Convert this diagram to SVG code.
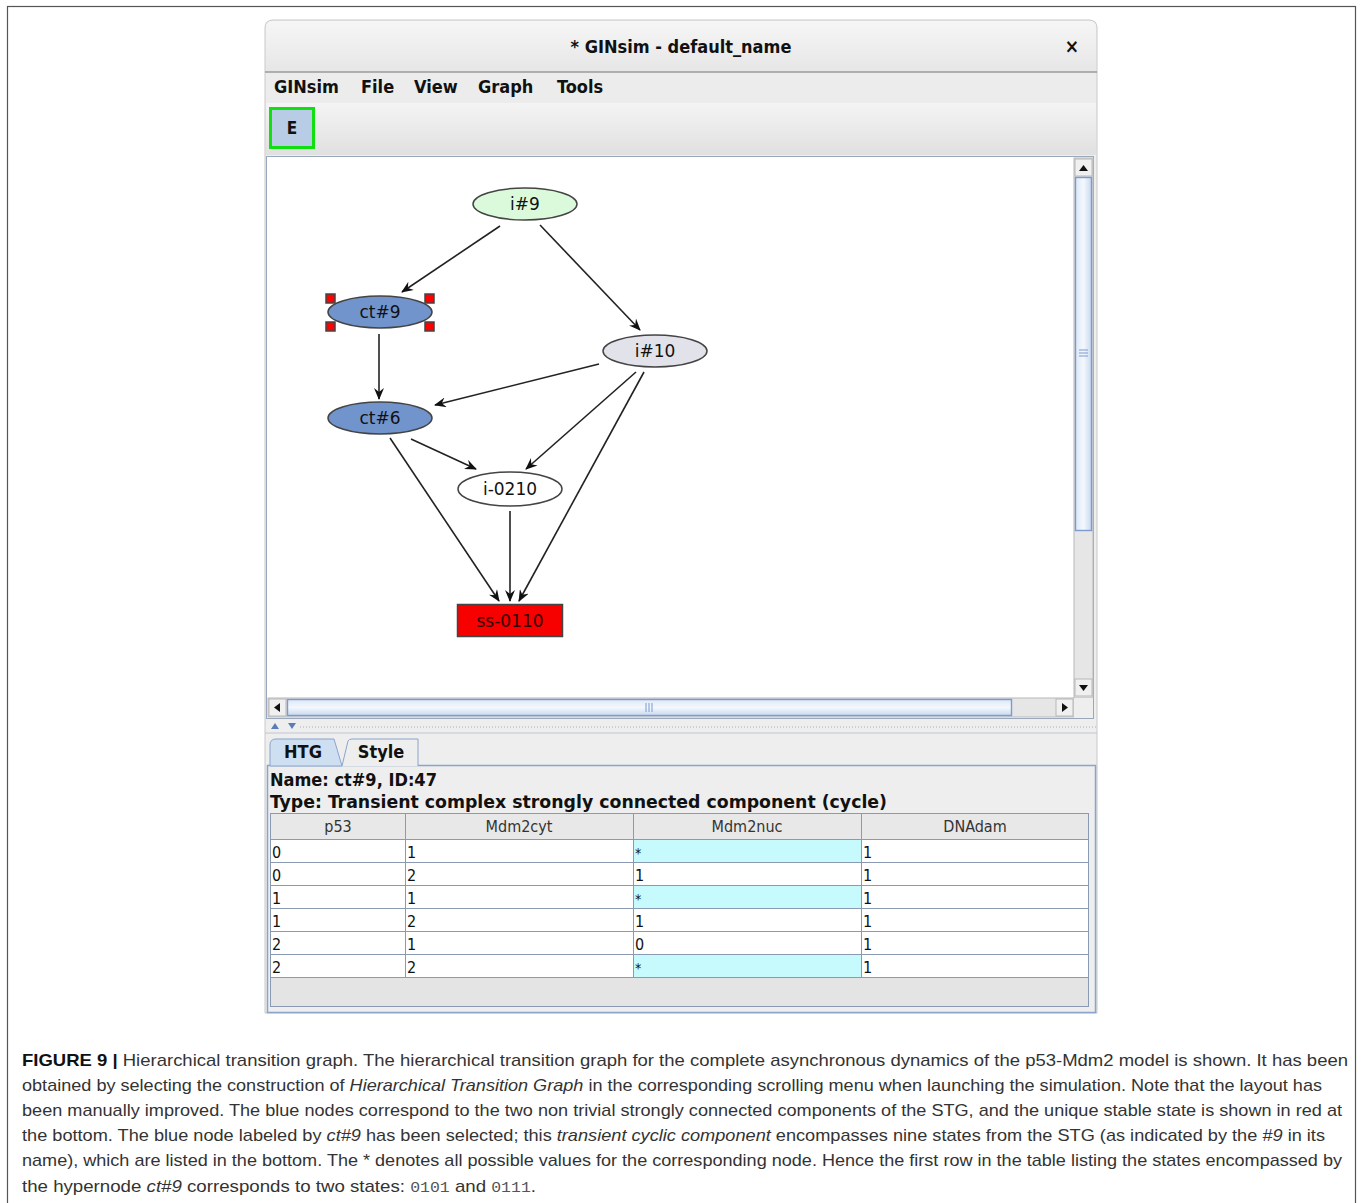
<svg xmlns="http://www.w3.org/2000/svg" width="1362" height="1203" viewBox="0 0 1362 1203">
<defs>
<style>
.gui{font-family:"DejaVu Sans Condensed","DejaVu Sans",sans-serif;fill:#111}
.b{font-weight:bold}
.node text{font-family:"DejaVu Sans","Liberation Sans",sans-serif;font-size:17px;fill:#111;text-anchor:middle}
.node ellipse,.node rect{stroke:#444;stroke-width:1.5}
.edge{stroke:#222;stroke-width:1.6;fill:none;marker-end:url(#arr)}
.cell{fill:#fff;stroke:#8a9ab0;stroke-width:1}
.hl{fill:#c6fafc;stroke:#8a9ab0;stroke-width:1}
.hdr{fill:#e8e8e8;stroke:#8a9ab0;stroke-width:1}
.tt{font-family:"DejaVu Sans Condensed","DejaVu Sans",sans-serif;font-size:16px;fill:#111}
.cap{font-family:"Liberation Sans",Arial,sans-serif;font-size:17px;fill:#333}
.mono{font-family:"Liberation Mono","DejaVu Sans Mono",monospace;font-size:15px;fill:#555}
.sel{fill:#f00}
</style>
<marker id="arr" viewBox="0 0 12 10" refX="11" refY="5" markerWidth="12" markerHeight="10" markerUnits="userSpaceOnUse" orient="auto">
<path d="M0,0 L12,5 L0,10 L4,5 z" fill="#111"/>
</marker>
<linearGradient id="title" x1="0" y1="0" x2="0" y2="1"><stop offset="0" stop-color="#f6f6f6"/><stop offset="1" stop-color="#e6e6e6"/></linearGradient>
<linearGradient id="tool" x1="0" y1="0" x2="0" y2="1"><stop offset="0" stop-color="#f4f4f4"/><stop offset="1" stop-color="#e0e0e0"/></linearGradient>
<linearGradient id="thumbV" x1="0" y1="0" x2="1" y2="0"><stop offset="0" stop-color="#dce8f6"/><stop offset="0.5" stop-color="#f4f8fd"/><stop offset="1" stop-color="#c8d8ee"/></linearGradient>
<linearGradient id="thumbH" x1="0" y1="0" x2="0" y2="1"><stop offset="0" stop-color="#dce8f6"/><stop offset="0.5" stop-color="#f4f8fd"/><stop offset="1" stop-color="#c8d8ee"/></linearGradient>
</defs>
<rect width="1362" height="1203" fill="#fff"/>
<rect x="7.5" y="6.5" width="1348" height="1200" fill="#fff" stroke="#555" stroke-width="1.2"/>

<!-- window -->
<g id="window">
<path d="M265,1013 L265,28 Q265,20 273,20 L1089,20 Q1097,20 1097,28 L1097,1013 Z" fill="#eeeeee" stroke="#c8c8c8"/>
<path d="M266,72 L266,28 Q266,21 273,21 L1089,21 Q1096,21 1096,28 L1096,72 Z" fill="url(#title)"/>
<line x1="265" y1="72" x2="1097" y2="72" stroke="#9a9a9a" stroke-width="1.5"/>
<text class="gui" x="681" y="53" font-size="18" text-anchor="middle" style="font-weight:600">* GINsim - default_name</text>
<text class="gui b" x="1072" y="53" font-size="19" text-anchor="middle">×</text>
<rect x="266" y="73" width="830" height="30" fill="#ececec"/>
<text class="gui b" y="93" font-size="18"><tspan x="274">GINsim</tspan><tspan x="361">File</tspan><tspan x="414">View</tspan><tspan x="478">Graph</tspan><tspan x="557">Tools</tspan></text>
<rect x="266" y="103" width="830" height="52" fill="url(#tool)"/>
<rect x="270.5" y="108.5" width="43" height="39" fill="#b8cce6" stroke="#10e010" stroke-width="3"/>
<text class="gui b" x="292" y="134" font-size="17" text-anchor="middle">E</text>
</g>

<!-- canvas -->
<g id="canvas">
<rect x="266.5" y="156.5" width="827" height="562" fill="#fff" stroke="#9aa8bc"/>
<rect x="1074" y="158" width="19" height="540" fill="#e6e6e6" stroke="#b8b8b8"/>
<rect x="1075" y="159" width="17" height="17" fill="#f0f0f0" stroke="#b8b8b8"/>
<path d="M1079,171 L1083.5,165 L1088,171 Z" fill="#111"/>
<rect x="1075.5" y="177.5" width="16" height="353" fill="url(#thumbV)" stroke="#7d9ad0" stroke-width="1.4"/>
<g stroke="#7d9ad0"><line x1="1079" y1="350" x2="1088" y2="350"/><line x1="1079" y1="353" x2="1088" y2="353"/><line x1="1079" y1="356" x2="1088" y2="356"/></g>
<rect x="1075" y="679" width="17" height="17" fill="#f0f0f0" stroke="#b8b8b8"/>
<path d="M1079,685 L1088,685 L1083.5,691 Z" fill="#111"/>
<rect x="268" y="698" width="806" height="19" fill="#e6e6e6" stroke="#b8b8b8"/>
<rect x="269" y="699" width="17" height="17" fill="#f0f0f0" stroke="#b8b8b8"/>
<path d="M280,703 L274,707.5 L280,712 Z" fill="#111"/>
<rect x="287.5" y="699.5" width="724" height="16" fill="url(#thumbH)" stroke="#7d9ad0" stroke-width="1.4"/>
<g stroke="#7d9ad0"><line x1="646" y1="703" x2="646" y2="712"/><line x1="649" y1="703" x2="649" y2="712"/><line x1="652" y1="703" x2="652" y2="712"/></g>
<rect x="1056" y="699" width="17" height="17" fill="#f0f0f0" stroke="#b8b8b8"/>
<path d="M1062,703 L1068,707.5 L1062,712 Z" fill="#111"/>
<rect x="1074" y="698" width="19" height="20" fill="#eeeeee"/>
</g>

<!-- connectors -->
<g id="connectors">
<line class="edge" x1="500" y1="226" x2="402" y2="292"/>
<line class="edge" x1="540" y1="225" x2="640" y2="330"/>
<line class="edge" x1="379" y1="334" x2="379" y2="399"/>
<line class="edge" x1="599" y1="364" x2="435" y2="405"/>
<line class="edge" x1="636" y1="372" x2="526" y2="469"/>
<line class="edge" x1="644" y1="372" x2="519" y2="601"/>
<line class="edge" x1="411" y1="439" x2="476" y2="469"/>
<line class="edge" x1="390" y1="438" x2="499" y2="601"/>
<line class="edge" x1="510" y1="511" x2="510" y2="601"/>
</g>

<!-- nodes -->
<g id="n_i9" class="node"><ellipse cx="525" cy="204" rx="52" ry="16" fill="#dafadb"/><text x="525" y="210">i#9</text></g>
<g id="n_ct9" class="node"><ellipse cx="380" cy="312" rx="52" ry="16" fill="#7294cc"/><text x="380" y="318">ct#9</text>
<rect class="sel" x="326" y="294" width="9" height="9"/><rect class="sel" x="425" y="294" width="9" height="9"/><rect class="sel" x="326" y="322" width="9" height="9"/><rect class="sel" x="425" y="322" width="9" height="9"/></g>
<g id="n_i10" class="node"><ellipse cx="655" cy="351" rx="52" ry="16" fill="#e2e2ea"/><text x="655" y="357">i#10</text></g>
<g id="n_ct6" class="node"><ellipse cx="380" cy="418" rx="52" ry="16" fill="#7294cc"/><text x="380" y="424">ct#6</text></g>
<g id="n_i0210" class="node"><ellipse cx="510" cy="489" rx="52" ry="17" fill="#ffffff"/><text x="510" y="495">i-0210</text></g>
<g id="n_ss0110" class="node"><rect x="457.5" y="604.5" width="105" height="32" fill="#f60000"/><text x="510" y="627" style="fill:#300">ss-0110</text></g>

<!-- splitter -->
<g id="splitter">
<line x1="300" y1="727" x2="1096" y2="727" stroke="#b0b0b0" stroke-dasharray="1 2"/>
<line x1="265" y1="733" x2="1097" y2="733" stroke="#c0c8d4"/>
<path d="M271,729 L275,723 L279,729 Z" fill="#5c7cb8"/>
<path d="M288,723 L296,723 L292,729 Z" fill="#5c7cb8"/>
</g>

<!-- tabs and panel -->
<g id="panel">
<rect x="267.5" y="765.5" width="828" height="247" fill="#eeeeee" stroke="#8aa4cc" stroke-width="1.5"/>
<path d="M270,766 L270,745 Q270,739 276,739 L334,739 L342,766 Z" fill="#cfdff2" stroke="#8aa4cc"/>
<path d="M342,766 L348,741 Q349,739 352,739 L418,739 L418,766" fill="#eeeeee" stroke="#8aa4cc"/>
<text class="gui b" x="303" y="758" font-size="18" text-anchor="middle">HTG</text>
<text class="gui b" x="381" y="758" font-size="18" text-anchor="middle">Style</text>
<text class="gui b" x="270" y="786" font-size="18">Name: ct#9, ID:47</text>
<text class="gui b" x="270" y="808" font-size="18" textLength="617" lengthAdjust="spacingAndGlyphs">Type: Transient complex strongly connected component (cycle)</text>
</g>

<!-- table -->
<g id="table">
<rect x="270.5" y="813.5" width="818" height="193" fill="#e4e4e4" stroke="#8a9ab0"/>
<rect class="hdr" x="270.5" y="813.5" width="135" height="26"/>
<rect class="hdr" x="405.5" y="813.5" width="228" height="26"/>
<rect class="hdr" x="633.5" y="813.5" width="228" height="26"/>
<rect class="hdr" x="861.5" y="813.5" width="227" height="26"/>
<g class="tt" text-anchor="middle" style="fill:#333"><text x="338" y="832">p53</text><text x="519" y="832">Mdm2cyt</text><text x="747" y="832">Mdm2nuc</text><text x="975" y="832">DNAdam</text></g>

<g id="r1"><rect class="cell" x="270.5" y="839.5" width="135" height="23"/><rect class="cell" x="405.5" y="839.5" width="228" height="23"/><rect class="hl" x="633.5" y="839.5" width="228" height="23"/><rect class="cell" x="861.5" y="839.5" width="227" height="23"/></g>
<g id="r2"><rect class="cell" x="270.5" y="862.5" width="135" height="23"/><rect class="cell" x="405.5" y="862.5" width="228" height="23"/><rect class="cell" x="633.5" y="862.5" width="228" height="23"/><rect class="cell" x="861.5" y="862.5" width="227" height="23"/></g>
<g id="r3"><rect class="cell" x="270.5" y="885.5" width="135" height="23"/><rect class="cell" x="405.5" y="885.5" width="228" height="23"/><rect class="hl" x="633.5" y="885.5" width="228" height="23"/><rect class="cell" x="861.5" y="885.5" width="227" height="23"/></g>
<g id="r4"><rect class="cell" x="270.5" y="908.5" width="135" height="23"/><rect class="cell" x="405.5" y="908.5" width="228" height="23"/><rect class="cell" x="633.5" y="908.5" width="228" height="23"/><rect class="cell" x="861.5" y="908.5" width="227" height="23"/></g>
<g id="r5"><rect class="cell" x="270.5" y="931.5" width="135" height="23"/><rect class="cell" x="405.5" y="931.5" width="228" height="23"/><rect class="cell" x="633.5" y="931.5" width="228" height="23"/><rect class="cell" x="861.5" y="931.5" width="227" height="23"/></g>
<g id="r6"><rect class="cell" x="270.5" y="954.5" width="135" height="23"/><rect class="cell" x="405.5" y="954.5" width="228" height="23"/><rect class="hl" x="633.5" y="954.5" width="228" height="23"/><rect class="cell" x="861.5" y="954.5" width="227" height="23"/></g>

<g class="tt">
<text x="272" y="858">0</text><text x="407" y="858">1</text><text x="635" y="858" font-size="14">*</text><text x="863" y="858">1</text>
<text x="272" y="881">0</text><text x="407" y="881">2</text><text x="635" y="881">1</text><text x="863" y="881">1</text>
<text x="272" y="904">1</text><text x="407" y="904">1</text><text x="635" y="904" font-size="14">*</text><text x="863" y="904">1</text>
<text x="272" y="927">1</text><text x="407" y="927">2</text><text x="635" y="927">1</text><text x="863" y="927">1</text>
<text x="272" y="950">2</text><text x="407" y="950">1</text><text x="635" y="950">0</text><text x="863" y="950">1</text>
<text x="272" y="973">2</text><text x="407" y="973">2</text><text x="635" y="973" font-size="14">*</text><text x="863" y="973">1</text>
</g>
</g>

<!-- caption -->
<g id="caption">
<text class="cap" x="22" y="1066" textLength="1326" lengthAdjust="spacingAndGlyphs"><tspan font-weight="bold" fill="#111">FIGURE 9 |</tspan> Hierarchical transition graph. The hierarchical transition graph for the complete asynchronous dynamics of the p53-Mdm2 model is shown. It has been</text>
<text class="cap" x="22" y="1091" textLength="1300" lengthAdjust="spacingAndGlyphs">obtained by selecting the construction of <tspan font-style="italic">Hierarchical Transition Graph</tspan> in the corresponding scrolling menu when launching the simulation. Note that the layout has</text>
<text class="cap" x="22" y="1116" textLength="1320" lengthAdjust="spacingAndGlyphs">been manually improved. The blue nodes correspond to the two non trivial strongly connected components of the STG, and the unique stable state is shown in red at</text>
<text class="cap" x="22" y="1141" textLength="1303" lengthAdjust="spacingAndGlyphs">the bottom. The blue node labeled by <tspan font-style="italic">ct#9</tspan> has been selected; this <tspan font-style="italic">transient cyclic component</tspan> encompasses nine states from the STG (as indicated by the <tspan font-style="italic">#9</tspan> in its</text>
<text class="cap" x="22" y="1166" textLength="1320" lengthAdjust="spacingAndGlyphs">name), which are listed in the bottom. The * denotes all possible values for the corresponding node. Hence the first row in the table listing the states encompassed by</text>
<text class="cap" x="22" y="1192" textLength="514" lengthAdjust="spacingAndGlyphs">the hypernode <tspan font-style="italic">ct#9</tspan> corresponds to two states: <tspan class="mono">0101</tspan> and <tspan class="mono">0111</tspan>.</text>
</g>
</svg>
